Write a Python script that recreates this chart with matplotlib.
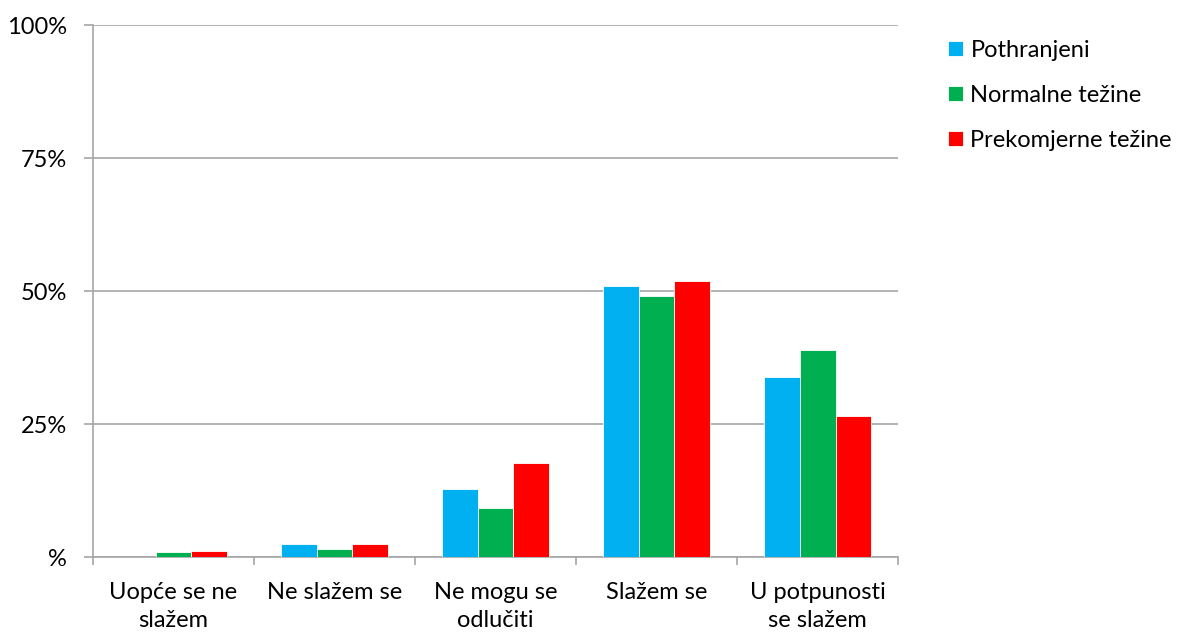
import numpy as np
from matplotlib import pyplot as plt
from matplotlib.ticker import FixedLocator

plt.rcParams['font.family'] = ['Lato', 'DejaVu Sans']

categories = ['Uopće se ne\nslažem', 'Ne slažem se', 'Ne mogu se\nodlučiti',
              'Slažem se', 'U potpunosti\nse slažem']
series = ['Pothranjeni', 'Normalne težine', 'Prekomjerne težine']
pothranjeni = [0.0, 2.4, 12.7, 50.9, 33.9]
normalne = [0.95, 1.6, 9.3, 49.0, 39.0]
prekomjerne = [1.2, 2.4, 17.7, 51.9, 26.6]
colors = ['#00B0F0', '#00B050', '#FF0000']
yticks = [0, 25, 50, 75, 100]
ytick_labels = ['%', '25%', '50%', '75%', '100%']

fig = plt.figure(figsize=(11.84, 6.33), dpi=100)
ax = fig.add_axes([0.0785, 0.12, 0.68, 0.8405])

x = np.arange(len(categories))
w = 0.223
for i, (name, vals) in enumerate(zip(series, [pothranjeni, normalne, prekomjerne])):
    ax.bar(x + (i - 1) * w, vals, w, color=colors[i], label=name,
           edgecolor='white', linewidth=0.6, zorder=3)

ax.set_xlim(-0.5, len(categories) - 0.5)
ax.set_ylim(0, 100)
ax.set_yticks(yticks)
ax.set_yticklabels(ytick_labels, fontsize=17)
ax.set_xticks(x)
ax.set_xticklabels(categories, fontsize=17, linespacing=1.4)
ax.xaxis.set_minor_locator(FixedLocator(np.arange(-0.5, len(categories), 1)))
ax.tick_params(axis='x', which='major', length=0, pad=18)
ax.tick_params(axis='x', which='minor', length=6, color='#a6a6a6', width=1.2)
ax.tick_params(axis='y', length=6.5, color='#a6a6a6', width=1.2, pad=12)

ax.grid(axis='y', color='#a6a6a6', linewidth=1.2, zorder=0)
for side in ['top', 'right']:
    ax.spines[side].set_visible(False)
for side in ['left', 'bottom']:
    ax.spines[side].set_color('#a6a6a6')
    ax.spines[side].set_linewidth(1.2)

ax.legend(loc='upper left', bbox_to_anchor=(1.036, 1.0125), frameon=False,
          fontsize=17, handlelength=0.64, handleheight=0.64, handletextpad=0.3,
          labelspacing=1.02)

fig.savefig('out.png', dpi=100)
